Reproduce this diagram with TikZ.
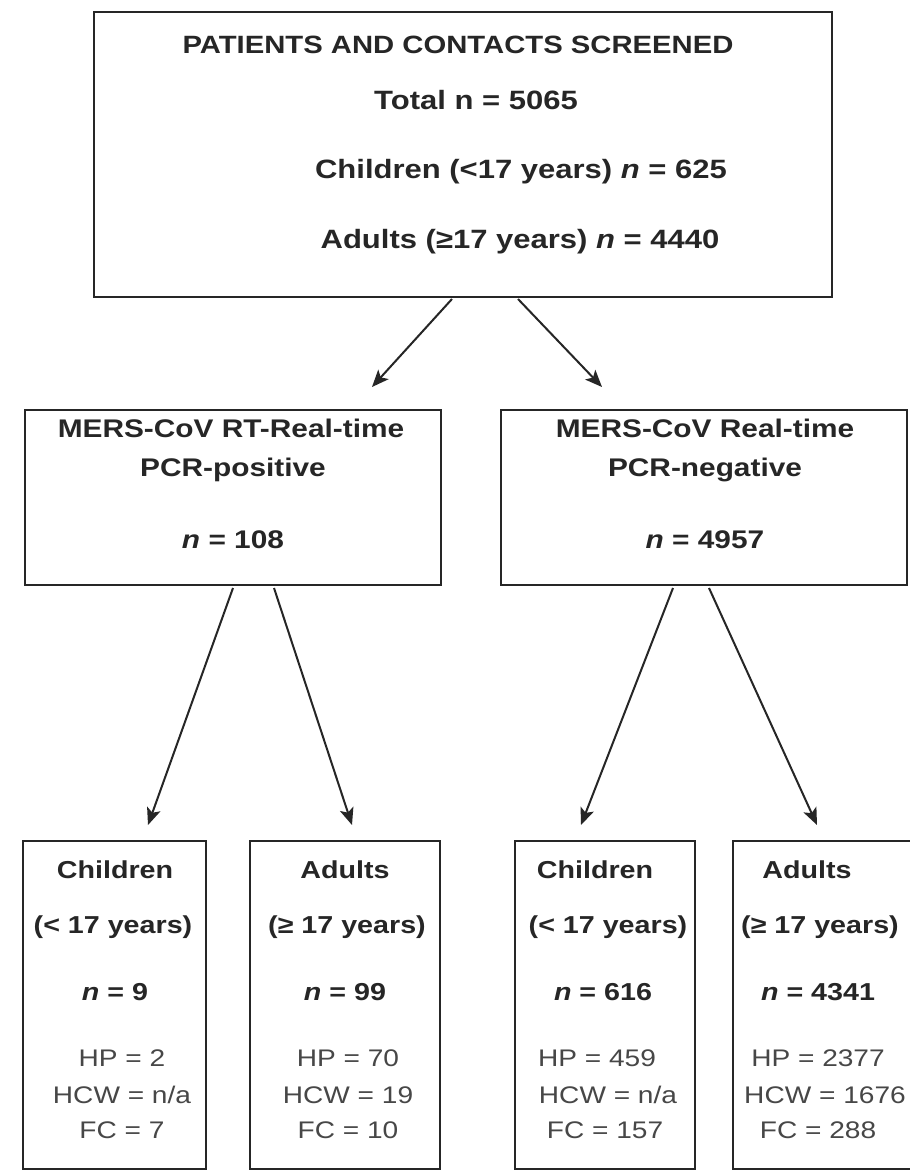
\documentclass[tikz,border=0pt]{standalone}
\usepackage{fontspec}
\setmainfont[FakeStretch=1.17]{Liberation Sans}
\usetikzlibrary{arrows.meta}
\definecolor{ink}{HTML}{262626}
\definecolor{soft}{HTML}{474747}
\begin{document}
\begin{tikzpicture}[x=1pt,y=-1pt,
  box/.style={draw=ink,line width=2.8pt,inner sep=0pt},
  arr/.style={-{Stealth[length=17pt,width=14pt,inset=4pt]},line width=2pt,draw=ink},
  ttl/.style={font=\bfseries\fontsize{25}{28}\selectfont,text=ink,inner sep=0pt},
  hd/.style={font=\bfseries\fontsize{26.5}{30}\selectfont,text=ink,inner sep=0pt},
  md/.style={font=\bfseries\fontsize{25.5}{29}\selectfont,text=ink,inner sep=0pt},
  sm/.style={font=\bfseries\fontsize{24.5}{28}\selectfont,text=ink,inner sep=0pt},
  rg/.style={font=\fontsize{24}{27}\selectfont,text=soft,inner sep=0pt}]
\useasboundingbox (0,0) rectangle (910,1175);
\fill[white] (0,0) rectangle (910,1175);
% top box
\node[box,minimum width=738pt,minimum height=285pt] (top) at (463,154.5) {};
\node[ttl] (t1) at (458,45) {PATIENTS AND CONTACTS SCREENED};
\node[hd] (t2) at (476,100) {Total n = 5065};
\node[hd] (t3) at (521,172) {Children (<17 years) \textit{n} = 625};
\node[hd] (t4) at (520,242) {Adults (≥17 years) \textit{n} = 4440};
% middle boxes
\node[box,minimum width=416pt,minimum height=175pt] (pos) at (233,497.5) {};
\node[box,minimum width=406pt,minimum height=175pt] (neg) at (704,497.5) {};
\node[md] (p1) at (231,428) {MERS-CoV RT-Real-time};
\node[md] (p2) at (233,470) {PCR-positive};
\node[md] (p3) at (233,540) {\textit{n} = 108};
\node[md] (n1) at (705,428) {MERS-CoV Real-time};
\node[md] (n2) at (705,470) {PCR-negative};
\node[md] (n3) at (705,540) {\textit{n} = 4957};
% bottom boxes
\node[box,minimum width=183pt,minimum height=328pt] (b1) at (114.5,1005) {};
\node[box,minimum width=190pt,minimum height=328pt] (b2) at (345,1005) {};
\node[box,minimum width=180pt,minimum height=328pt] (b3) at (605,1005) {};
\node[box,minimum width=184pt,minimum height=328pt] (b4) at (825,1005) {};
\node[sm] at (115,870) {Children};
\node[sm] at (113,927) {(< 17 years)};
\node[sm] at (115,992) {\textit{n} = 9};
\node[rg] at (122,1058) {HP = 2};
\node[rg] at (122,1095) {HCW = n/a};
\node[rg] at (122,1130) {FC = 7};
\node[sm] at (345,870) {Adults};
\node[sm] at (347,927) {(≥ 17 years)};
\node[sm] at (345,992) {\textit{n} = 99};
\node[rg] at (348,1058) {HP = 70};
\node[rg] at (348,1095) {HCW = 19};
\node[rg] at (348,1130) {FC = 10};
\node[sm] at (595,870) {Children};
\node[sm] at (608,927) {(< 17 years)};
\node[sm] at (603,992) {\textit{n} = 616};
\node[rg] at (597,1058) {HP = 459};
\node[rg] at (608,1095) {HCW = n/a};
\node[rg] at (605,1130) {FC = 157};
\node[sm] at (807,870) {Adults};
\node[sm] at (820,927) {(≥ 17 years)};
\node[sm] at (818,992) {\textit{n} = 4341};
\node[rg] at (818,1058) {HP = 2377};
\node[rg] at (825,1095) {HCW = 1676};
\node[rg] at (818,1130) {FC = 288};
% arrow endpoints
\coordinate (tl) at (452,299); \coordinate (tr) at (518,299);
\coordinate (pl) at (233,588); \coordinate (pr) at (274,588);
\coordinate (nl) at (673,588); \coordinate (nr) at (709,588);
\coordinate (pos-in) at (372,387); \coordinate (neg-in) at (602,387);
\coordinate (b1-in) at (148,825); \coordinate (b2-in) at (352,825);
\coordinate (b3-in) at (581,825); \coordinate (b4-in) at (817,825);
\draw[arr] (tl) -- (pos-in);
\draw[arr] (tr) -- (neg-in);
\draw[arr] (pl) -- (b1-in);
\draw[arr] (pr) -- (b2-in);
\draw[arr] (nl) -- (b3-in);
\draw[arr] (nr) -- (b4-in);
\end{tikzpicture}
\end{document}
